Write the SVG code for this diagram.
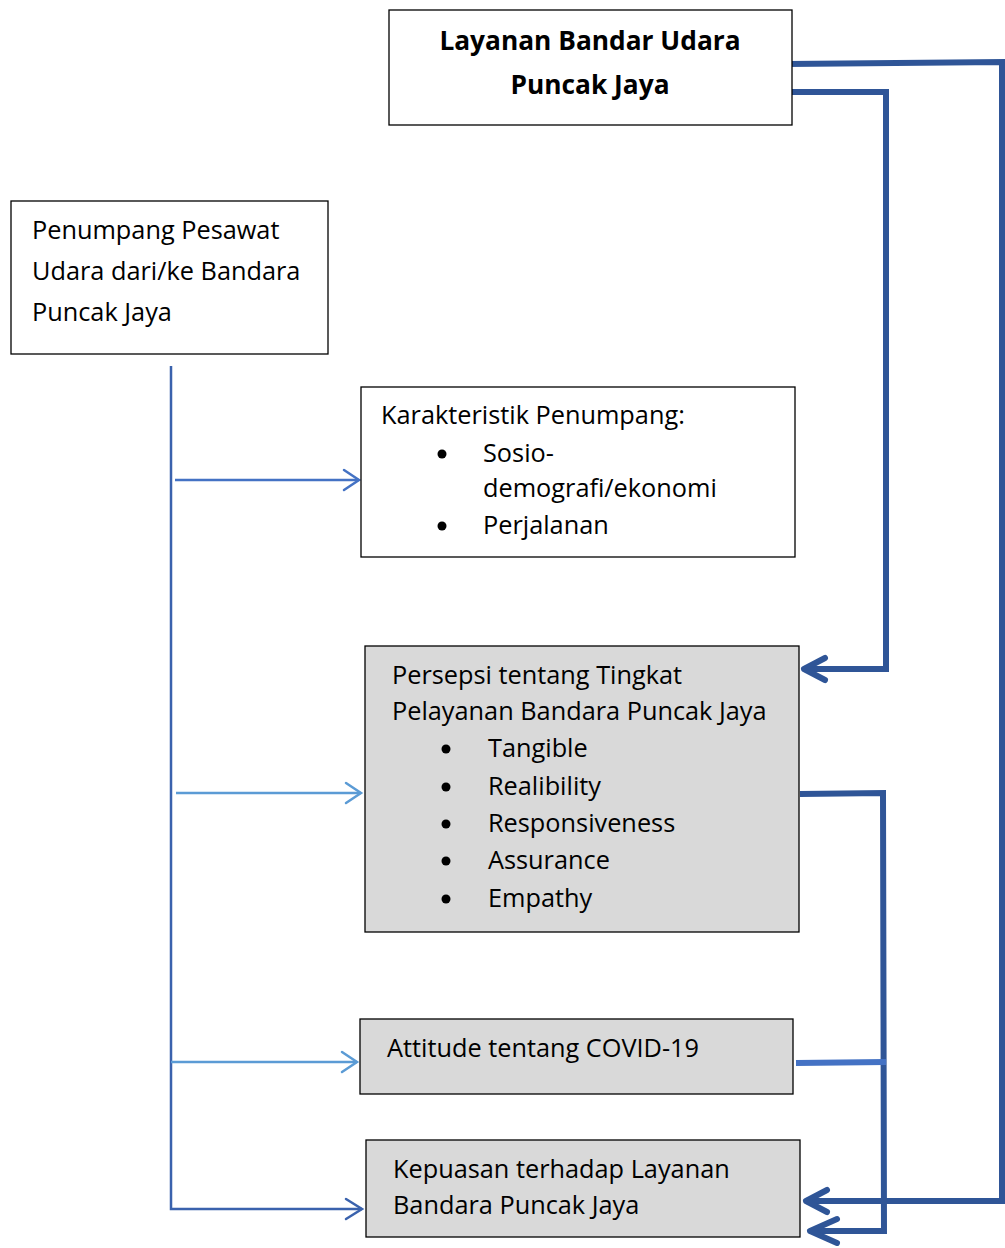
<svg xmlns="http://www.w3.org/2000/svg" width="1005" height="1248" viewBox="0 0 1005 1248">
<style>
.box{stroke:#000;stroke-width:1.3}
.w{fill:#fff}
.g{fill:#D9D9D9}
text{font-family:"Open Sans","Noto Sans","Liberation Sans",sans-serif;font-size:25.3px;fill:#000}
.b{font-weight:bold;font-size:26.3px}
.thick{fill:none;stroke:#2F5597;stroke-width:6;stroke-linejoin:miter}
.thin{fill:none;stroke-width:2.5}
.head{fill:none;stroke:#2F5597;stroke-width:6;stroke-linecap:round;stroke-linejoin:round}
.thead{fill:none;stroke-width:2.5;stroke-linecap:round}
</style>
<rect width="1005" height="1248" fill="#fff"/>
<g id="connectors">
<polyline class="thin" stroke="#3A62AD" points="171,366 171,1209 362,1209"/>
<polyline class="thead" stroke="#3A62AD" points="346,1199 362,1209 346,1219"/>
<line class="thin" stroke="#4472C4" x1="175" y1="480" x2="359" y2="480"/>
<polyline class="thead" stroke="#4472C4" points="344,470 359,480 344,490"/>
<line class="thin" stroke="#5B9BD5" x1="176" y1="793" x2="361" y2="793"/>
<polyline class="thead" stroke="#5B9BD5" points="346,783 361,793 346,803"/>
<line class="thin" stroke="#5B9BD5" x1="171" y1="1062" x2="357" y2="1062"/>
<polyline class="thead" stroke="#5B9BD5" points="342,1052 357,1062 342,1072"/>
<polyline class="thick" points="788,64 1002,62 1002,1201 806,1201"/>
<polyline class="head" points="827,1190 806,1201 827,1212"/>
<polyline class="thick" points="792,92 886,92 886,669 804,669"/>
<polyline class="head" points="825,658 804,669 825,680"/>
<polyline class="thick" points="800,794 883,793 884,1231 810,1231"/>
<polyline class="head" points="837,1219 810,1231 837,1243"/>
<line stroke="#4472C4" stroke-width="6" x1="796" y1="1063" x2="886" y2="1062"/>
</g>
<g id="layanan">
<rect class="box w" x="389" y="10" width="403" height="115"/>
<text class="b" x="590" y="50" text-anchor="middle">Layanan Bandar Udara</text>
<text class="b" x="590" y="94" text-anchor="middle">Puncak Jaya</text>
</g>
<g id="penumpang">
<rect class="box w" x="11" y="201" width="317" height="153"/>
<text x="32" y="239">Penumpang Pesawat</text>
<text x="32" y="280">Udara dari/ke Bandara</text>
<text x="32" y="321">Puncak Jaya</text>
</g>
<g id="karakteristik">
<rect class="box w" x="361" y="387" width="434" height="170"/>
<text x="381" y="424">Karakteristik Penumpang:</text>
<circle cx="442" cy="454" r="4.5"/>
<text x="483" y="462">Sosio-</text>
<text x="483" y="497">demografi/ekonomi</text>
<circle cx="442" cy="526" r="4.5"/>
<text x="483" y="534">Perjalanan</text>
</g>
<g id="persepsi">
<rect class="box g" x="365" y="646" width="434" height="286"/>
<text x="392" y="684">Persepsi tentang Tingkat</text>
<text x="392" y="720">Pelayanan Bandara Puncak Jaya</text>
<circle cx="446" cy="749" r="4.5"/>
<text x="488" y="757">Tangible</text>
<circle cx="446" cy="787" r="4.5"/>
<text x="488" y="795">Realibility</text>
<circle cx="446" cy="824" r="4.5"/>
<text x="488" y="832">Responsiveness</text>
<circle cx="446" cy="861" r="4.5"/>
<text x="488" y="869">Assurance</text>
<circle cx="446" cy="899" r="4.5"/>
<text x="488" y="907">Empathy</text>
</g>
<g id="attitude">
<rect class="box g" x="360" y="1019" width="433" height="75"/>
<text x="387" y="1057">Attitude tentang COVID-19</text>
</g>
<g id="kepuasan">
<rect class="box g" x="366" y="1140" width="434" height="97"/>
<text x="393" y="1178">Kepuasan terhadap Layanan</text>
<text x="393" y="1214">Bandara Puncak Jaya</text>
</g>
</svg>
